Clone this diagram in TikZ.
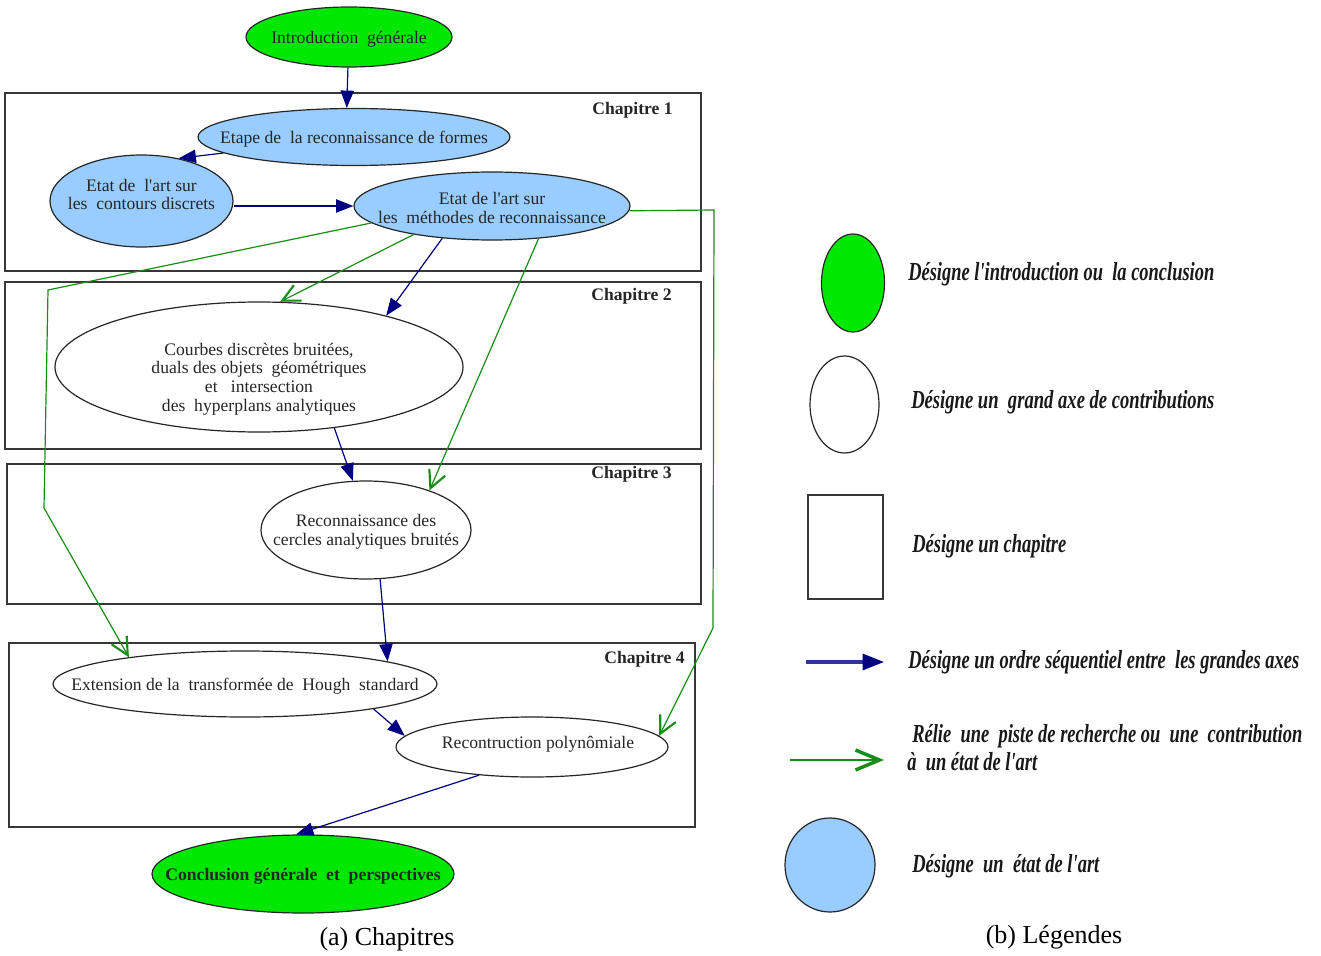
\documentclass[tikz,border=0pt]{standalone}
\usepackage{fontspec}
\setmainfont{Liberation Serif}[Ligatures=TeXOff]
\usepackage{graphicx}
\usetikzlibrary{shapes.geometric,arrows.meta}

\definecolor{introgreen}{RGB}{0,232,0}
\definecolor{artblue}{RGB}{153,204,255}
\definecolor{seqblue}{RGB}{0,0,128}
\definecolor{linkgreen}{RGB}{25,140,25}
\definecolor{framegray}{RGB}{55,55,55}

% diagram text and legend text (legend text squeezed to a given width in pt)
\newcommand\dtxt{\fontsize{13.2}{13.9}\selectfont}
\newcommand\legtxt[2]{\resizebox{#1pt}{\height}{\fontsize{19.5}{22}\selectfont\bfseries\itshape #2}}

\begin{document}
\begin{tikzpicture}[x=0.75pt,y=-0.75pt,
  el/.style 2 args={ellipse, draw=black!85, line width=0.9pt, inner sep=0pt,
    minimum width={#1*1.5pt}, minimum height={#2*1.5pt}},
  txt/.style={font=\dtxt, text=black!85, align=center, inner sep=0pt, yshift=-1.5pt},
  chapbox/.style={draw=framegray, line width=1.4pt},
  chaplabel/.style={font=\dtxt\bfseries, text=black!85, inner sep=0pt, anchor=east},
  seq/.style={draw=seqblue, line width=0.9pt, -{Triangle[length=13pt,width=10pt]}},
  link/.style={draw=linkgreen, line width=0.9pt, -{Straight Barb[length=13pt,width=13pt,line width=1.6pt]}},
  legseq/.style={draw=seqblue!80!white, line width=2.4pt, -{Triangle[length=16pt,width=12pt,color=seqblue,fill=seqblue]}},
  leglink/.style={draw=linkgreen, line width=2.2pt, -{Straight Barb[length=18pt,width=15pt,line width=2.6pt]}},
  legt/.style={anchor=base west, inner sep=0pt, text=black!90},
  captext/.style={anchor=base, inner sep=0pt, font=\fontsize{19.5}{22}\selectfont}]

\useasboundingbox (0,0) rectangle (1321,956);

% chapter frames
\draw[chapbox] (5,93) rectangle (701,271);
\draw[chapbox] (5,282) rectangle (701,449);
\draw[chapbox] (7,464) rectangle (701,604);
\draw[chapbox] (9,643) rectangle (695,827);
\node[chaplabel] (c1) at (673,110) {Chapitre 1};
\node[chaplabel] (c2) at (672,296) {Chapitre 2};
\node[chaplabel] (c3) at (672,474) {Chapitre 3};
\node[chaplabel] (c4) at (685,659) {Chapitre 4};

% chapter contents
\node[el={103}{30}, fill=introgreen, label={[txt]center:Introduction\ \ générale}] (intro) at (349,37) {};
\node[el={156}{28.5}, fill=artblue, label={[txt]center:Etape de\ \ la reconnaissance de formes}] (etape) at (354,137) {};
\node[el={91.5}{46}, fill=artblue, label={[txt,yshift=6.5pt]center:Etat de\ \ l'art sur\\les\ \ contours discrets}] (contours) at (141.5,201) {};
\node[el={138}{34}, fill=artblue, label={[txt]center:Etat de l'art sur\\les\ \ méthodes de reconnaissance}] (meth) at (492,206) {};
\node[el={204}{65}, fill=white, label={[txt,yshift=-7.5pt]center:Courbes discrètes bruitées,\\duals des objets\ \ géométriques\\et\ \ \ intersection\\des\ \ hyperplans analytiques}] (courbes) at (259,367) {};
\node[el={105}{49}, fill=white, label={[txt]center:Reconnaissance des\\cercles analytiques bruités}] (reco) at (366,530) {};
\node[el={192}{33}, fill=white, label={[txt]center:Extension de la\ \ transformée de\ \ Hough\ \ standard}] (ext) at (245,684) {};
\node[el={136}{30}, fill=white, label={[txt,xshift=4.5pt,yshift=3.5pt]center:Recontruction polynômiale}] (recon) at (532,747) {};
\node[el={151}{39}, fill=introgreen, label={[txt,font=\dtxt\bfseries]center:Conclusion générale\ \ et\ \ perspectives}] (concl) at (303,874) {};

% sequential order
\draw[seq] (intro.268) -- (etape.104);
\draw[seq] (etape.187) -- (contours.49);
\draw[seq] (contours.east |- meth.west) -- (meth.west);
\draw[seq] (meth.213) -- (courbes.22);
\draw[seq] (courbes.321) -- (reco.105);
\draw[seq] (reco.286) -- (ext.9);
\draw[seq] (ext.349) -- (recon.175);
\draw[seq] (recon.208) -- (concl.100);

% links to the state of the art
\coordinate (g1a) at (48,290);
\coordinate (g1b) at (44,508);
\coordinate (g4a) at (714,210);
\coordinate (g4b) at (713,628);
\draw[link] (meth.188) -- (g1a) -- (g1b) -- (ext.167);
\draw[link] (meth.200) -- (courbes.72);
\draw[link] (meth.325) -- (reco.32);
\draw[link] (meth.358) -- (g4a) -- (g4b) -- (recon.5);

\node[captext] (capa) at (387,945) {(a) Chapitres};

% legend
\node[el={31.5}{49}, fill=introgreen] (legintro) at (853,283) {};
\node[el={34.5}{48.5}, fill=white] (legaxe) at (844.5,404.5) {};
\node[draw=framegray, line width=1.4pt, inner sep=0pt,
      minimum width={75*0.75pt}, minimum height={104*0.75pt}] (legchap) at (845.2,547) {};
\coordinate (lseqA) at (806,662);
\coordinate (lseqB) at (884,662);
\draw[legseq] (lseqA) -- (lseqB);
\coordinate (llinkA) at (790,760);
\coordinate (llinkB) at (884,760);
\draw[leglink] (llinkA) -- (llinkB);
\node[el={45}{47}, fill=artblue] (legetat) at (830,865) {};

\node[legt] (lt1) at (908,280) {\legtxt{229.5}{Désigne l'introduction ou\ \ la conclusion}};
\node[legt] (lt2) at (911,408) {\legtxt{227.3}{Désigne un\ \ grand axe de contributions}};
\node[legt] (lt3) at (912,552) {\legtxt{115.5}{Désigne un chapitre}};
\node[legt] (lt4) at (908,668) {\legtxt{293.3}{Désigne un ordre séquentiel entre\ \ les grandes axes}};
\node[legt] (lt5) at (912,742) {\legtxt{292.5}{Rélie\ \ une\ \ piste de recherche ou\ \ une\ \ contribution}};
\node[legt] (lt6) at (907,770) {\legtxt{97.5}{à\ \ un état de l'art}};
\node[legt] (lt7) at (912,872) {\legtxt{140.3}{Désigne\ \ un\ \ état de l'art}};

\node[captext] (capb) at (1054,943) {(b) Légendes};
\end{tikzpicture}
\end{document}
